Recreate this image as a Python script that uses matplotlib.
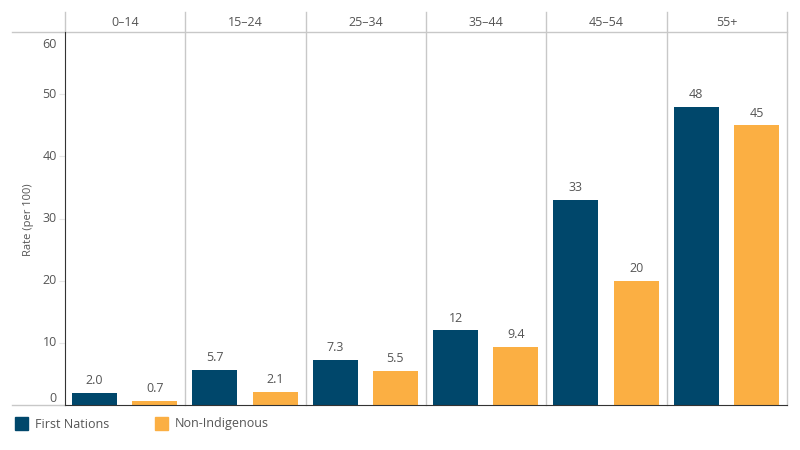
import matplotlib
matplotlib.use('Agg')
import matplotlib.pyplot as plt
import numpy as np

# data
age_groups = ['0–14', '15–24', '25–34', '35–44', '45–54', '55+']
first_nations = [2.0, 5.7, 7.3, 12, 33, 48]
non_indigenous = [0.7, 2.1, 5.5, 9.4, 20, 45]
y_ticks = [0, 10, 20, 30, 40, 50, 60]

col_fn = '#00476B'
col_ni = '#FBAF43'
grey = '#C8C8C8'
txt = '#555555'

plt.rcParams['font.family'] = ['Open Sans', 'DejaVu Sans']

fig = plt.figure(figsize=(8, 4.5), dpi=100)
L, R, B, T = 65 / 800, 787 / 800, 45 / 450, 418 / 450
ax = fig.add_axes([L, B, R - L, T - B])

def fmt(v):
    return '%.1f' % v if v < 10 else '%d' % round(v)

x = np.arange(len(age_groups))
w = 0.375
b1 = ax.bar(x + 0.246, first_nations, width=w, color=col_fn)
b2 = ax.bar(x + 0.746, non_indigenous, width=w, color=col_ni)
for bars, vals in ((b1, first_nations), (b2, non_indigenous)):
    for rect, v in zip(bars, vals):
        ax.annotate(fmt(v), (rect.get_x() + rect.get_width() / 2, v),
                    xytext=(0, 4), textcoords='offset points',
                    ha='center', va='bottom', fontsize=9, color=txt)

ax.set_xlim(0, len(age_groups))
ax.set_ylim(0, 60)
ax.set_xticks([])
ax.set_yticks(y_ticks)
ax.set_yticklabels([])
ax.tick_params(axis='y', length=4, color='#E6E6E6')
for t in y_ticks:
    va = 'center'
    yy = t
    if t == 0:
        va = 'bottom'
    elif t == 60:
        va = 'top'
        yy = 60 - 1.0
    ax.annotate(str(t), (0, yy), xycoords=ax.get_yaxis_transform(),
                xytext=(-6, 0), textcoords='offset points',
                ha='right', va=va, fontsize=9, color=txt)

for s in ('top', 'right'):
    ax.spines[s].set_visible(False)
ax.spines['left'].set_color('#333333')
ax.spines['bottom'].set_color('#333333')

# panel separators and header row
hdr = 20 / 373
x0 = (12 - 65) / 722
for i in range(1, len(age_groups) + 1):
    ax.plot([i, i], [0, 1 + hdr], transform=ax.get_xaxis_transform(),
            color=grey, lw=1, clip_on=False, zorder=0)
ax.plot([0, 0], [1, 1 + hdr], transform=ax.get_xaxis_transform(),
        color=grey, lw=1, clip_on=False)
ax.plot([x0, 1], [1, 1], transform=ax.transAxes, color=grey, lw=1, clip_on=False)
ax.plot([x0, 0], [0, 0], transform=ax.transAxes, color=grey, lw=1, clip_on=False)
for i, g in enumerate(age_groups):
    ax.text(i + 0.5, 1 + hdr / 2, g, transform=ax.get_xaxis_transform(),
            ha='center', va='center', fontsize=9, color=txt)

fig.text(28 / 800, 1 - 220 / 450, 'Rate (per 100)', rotation=90,
         ha='center', va='center', fontsize=8, color=txt)

# legend
for xs, lab, c in ((15, 'First Nations', col_fn), (155, 'Non-Indigenous', col_ni)):
    fig.patches.append(plt.Rectangle((xs / 800, 1 - 430 / 450), 13 / 800, 13 / 450,
                                     transform=fig.transFigure, color=c))
    fig.text((xs + 20) / 800, 1 - 424 / 450, lab, ha='left', va='center',
             fontsize=9, color=txt)

fig.savefig('out.png', dpi=100)
